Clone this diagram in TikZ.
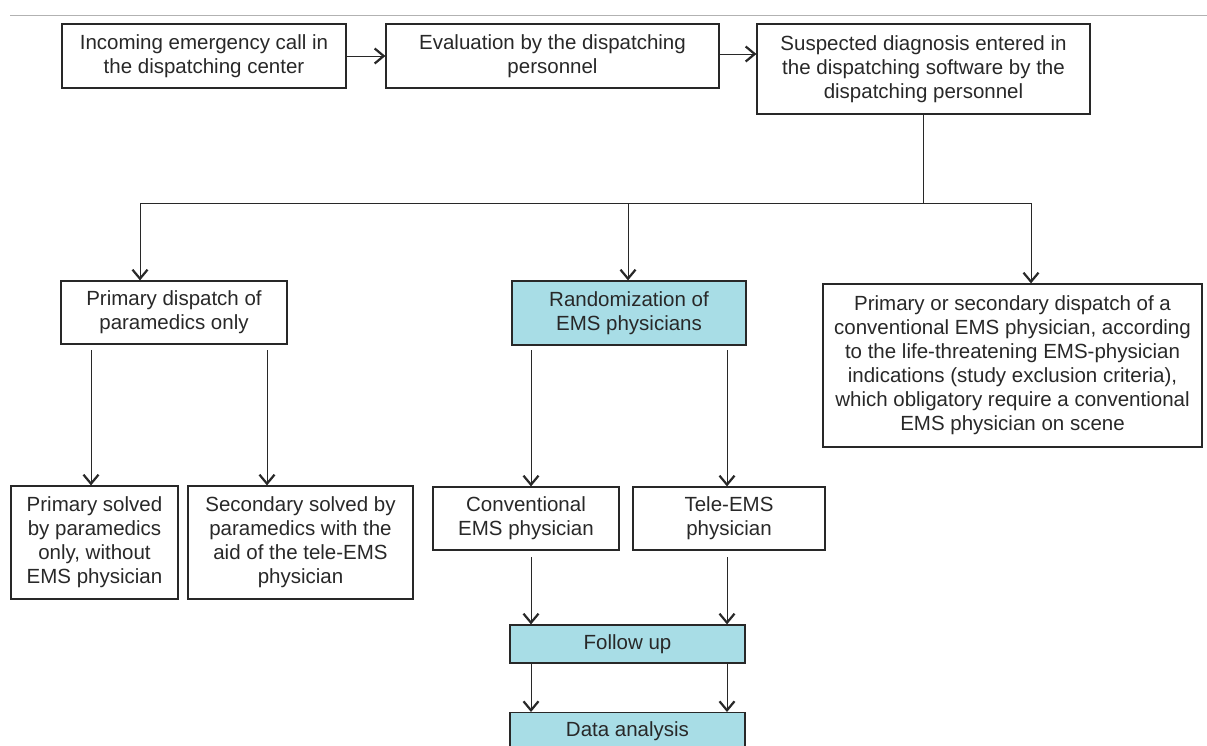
\documentclass[tikz,border=0pt]{standalone}
\usepackage{fontspec}
\setmainfont{Liberation Sans}
\usetikzlibrary{arrows.meta}
\definecolor{boxcyan}{RGB}{168,221,230}
\definecolor{ink}{RGB}{40,40,40}
\begin{document}
\begin{tikzpicture}[x=1pt,y=-1pt,
  box/.style={draw=ink,line width=1.2pt,align=center,inner sep=0pt,font=\fontsize{20.5}{24}\selectfont,text=ink},
  hl/.style={box,fill=boxcyan},
  arr/.style={draw=ink,line width=1pt,-{Straight Barb[length=9pt,width=15pt,line width=2.2pt]}},
  ln/.style={draw=ink,line width=1pt}]
\useasboundingbox (0,0) rectangle (1207,745);
\draw[gray!60,line width=0.8pt] (10,15) -- (1207,15);
% top row
\node[box,minimum width=284pt,minimum height=64pt] (A) at (204,56) {Incoming emergency call in\\the dispatching center};
\node[box,minimum width=333pt,minimum height=64pt] (B) at (552.5,56) {Evaluation by the dispatching\\personnel};
\node[box,minimum width=333pt,minimum height=90pt] (C) at (923.5,69) {Suspected diagnosis entered in\\the dispatching software by the\\dispatching personnel};
\draw[arr] (A.east) -- (B.west);
\draw[arr] (B.east |- 0,54) -- (C.west |- 0,54);
% second row
\node[box,minimum width=226pt,minimum height=63pt] (D) at (174,312.5) {Primary dispatch of\\paramedics only};
\node[hl,minimum width=234pt,minimum height=64pt] (E) at (629,313) {Randomization of\\EMS physicians};
\node[box,minimum width=379pt,minimum height=163pt] (F) at (1012.5,365.5) {Primary or secondary dispatch of a\\conventional EMS physician, according\\to the life-threatening EMS-physician\\indications (study exclusion criteria),\\which obligatory require a conventional\\EMS physician on scene};
\coordinate (bus) at (923.5,203);
\coordinate (b1) at (140,203);
\coordinate (b2) at (628,203);
\coordinate (b3) at (1031,203);
\draw[ln] (C.south) -- (bus);
\draw[ln] (b1) -- (b3);
\draw[arr] (b1) -- (b1 |- D.north);
\draw[arr] (b2) -- (b2 |- E.north);
\draw[arr] (b3) -- (b3 |- F.north);
% third row
\node[box,minimum width=167pt,minimum height=113pt] (G) at (94.5,542.5) {Primary solved\\by paramedics\\only, without\\EMS physician};
\node[box,minimum width=225pt,minimum height=113pt] (H) at (300.5,542.5) {Secondary solved by\\paramedics with the\\aid of the tele-EMS\\physician};
\node[box,minimum width=186pt,minimum height=63pt] (I) at (526,518.5) {Conventional\\EMS physician};
\node[box,minimum width=192pt,minimum height=63pt] (J) at (729,518.5) {Tele-EMS\\physician};
\coordinate (d1) at (91,350);
\coordinate (d2) at (267,350);
\coordinate (e1) at (531,350);
\coordinate (e2) at (727,350);
\draw[arr] (d1) -- (d1 |- G.north);
\draw[arr] (d2) -- (d2 |- H.north);
\draw[arr] (e1) -- (e1 |- I.north);
\draw[arr] (e2) -- (e2 |- J.north);
% bottom
\node[hl,minimum width=235pt,minimum height=38pt] (K) at (627.5,644) {Follow up};
\node[hl,minimum width=235pt,minimum height=40pt,anchor=north] (L) at (627.5,712) {};
\node[font=\fontsize{20.5}{24}\selectfont,text=ink] (Lt) at (627.5,731) {Data analysis};
\coordinate (i1) at (531,557);
\coordinate (j1) at (727,557);
\draw[arr] (i1) -- (i1 |- K.north);
\draw[arr] (j1) -- (j1 |- K.north);
\coordinate (k1) at (531,663);
\coordinate (k2) at (727,663);
\draw[arr] (k1) -- (k1 |- L.north);
\draw[arr] (k2) -- (k2 |- L.north);
\end{tikzpicture}
\end{document}
